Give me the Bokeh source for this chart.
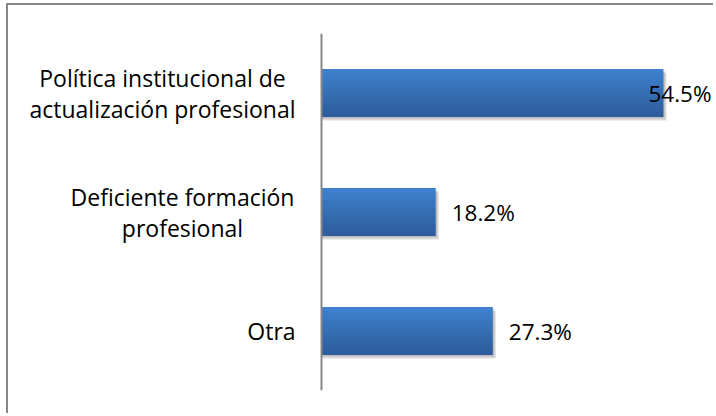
from bokeh.plotting import figure
from bokeh.models import FactorRange, Range1d, ColumnDataSource, LabelSet
from bokeh.transform import dodge
from bokeh.core.properties import value
from bokeh.embed import file_html
from bokeh.resources import INLINE

# ---- data ----
categories = ["Política institucional de\nactualización profesional",
              "Deficiente formación\nprofesional",
              "Otra"]
values = [54.5, 18.2, 27.3]
value_labels = ["54.5%", "18.2%", "27.3%"]

# ---- styles ----
FONT = "Open Sans"
GRAY = "#878787"
TOP = (0x3e, 0x80, 0xce)
BOT = (0x2d, 0x5d, 0x9c)
label_dx = [-15, 16, 16]           # value-label offsets (px)
cat_label_cx = [154, 174, 263]     # category-label centres, px from frame left
LINE_PX = 31                       # line spacing of category labels
BAR_H = 0.40
N_SLICES = 12

p = figure(width=707, height=410,
           y_range=FactorRange(factors=categories[::-1]),
           x_range=Range1d(-49.9, 62.8),
           output_backend="svg", toolbar_location=None,
           min_border_left=0, min_border_right=0,
           min_border_top=28, min_border_bottom=25)
p.styles = {"margin-left": "6px", "margin-top": "3px",
            "border-left": f"2px solid {GRAY}", "border-top": f"2px solid {GRAY}"}
p.outline_line_color = None
p.background_fill_color = "white"
p.border_fill_color = "white"
p.xgrid.visible = False
p.ygrid.visible = False
p.xaxis.visible = False

src = ColumnDataSource(dict(cat=categories, val=values, lab=value_labels, dx=label_dx))

# soft shadow
for yo, xo, a in [(-0.036, 0.55, 0.05), (-0.028, 0.45, 0.07), (-0.020, 0.35, 0.08), (-0.012, 0.2, 0.08)]:
    p.hbar(y=dodge("cat", yo, range=p.y_range), right=dodge("val", xo), left=0,
           height=BAR_H, source=src, fill_color="#000000", fill_alpha=a, line_color=None)

# gradient bar drawn as horizontal slices
sh = BAR_H / N_SLICES
for i in range(N_SLICES):
    t = i / (N_SLICES - 1)
    c = tuple(int(round(TOP[k] + (BOT[k] - TOP[k]) * t)) for k in range(3))
    col = "#%02x%02x%02x" % c
    off = BAR_H / 2 - sh * (i + 0.5)
    p.hbar(y=dodge("cat", off, range=p.y_range), right="val", left=0, height=sh * 1.04,
           source=src, fill_color=col, line_color=None)

vlabels = LabelSet(x="val", y="cat", text="lab", x_offset="dx", source=src,
                   text_font=value(FONT), text_font_size="22.5px", text_color="#000000",
                   text_baseline="middle", text_align="left")
p.add_layout(vlabels)

# category labels: one centred label per text line
l_txt, l_cat, l_dy, l_cx = [], [], [], []
for cat, cx in zip(categories, cat_label_cx):
    parts = cat.split("\n")
    n = len(parts)
    for k, t in enumerate(parts):
        l_txt.append(t)
        l_cat.append(cat)
        l_dy.append(((n - 1) / 2 - k) * LINE_PX)
        l_cx.append(cx)
lsrc = ColumnDataSource(dict(txt=l_txt, cat=l_cat, dy=l_dy, cx=l_cx))
clabels = LabelSet(x="cx", x_units="screen", y="cat", y_offset="dy", text="txt", source=lsrc,
                   text_font=value(FONT), text_font_size="23px", text_color="#000000",
                   text_baseline="middle", text_align="center")
p.add_layout(clabels)

# category axis: its line sits at x = 0
ax = p.yaxis[0]
ax.fixed_location = 0
ax.axis_line_color = GRAY
ax.axis_line_width = 2
ax.major_tick_line_color = None
ax.minor_tick_line_color = None
ax.major_tick_out = 0
ax.major_tick_in = 0
ax.major_label_standoff = 0
ax.major_label_text_font_size = "0px"
ax.major_label_text_color = None

open("out.html", "w").write(file_html(p, INLINE))
